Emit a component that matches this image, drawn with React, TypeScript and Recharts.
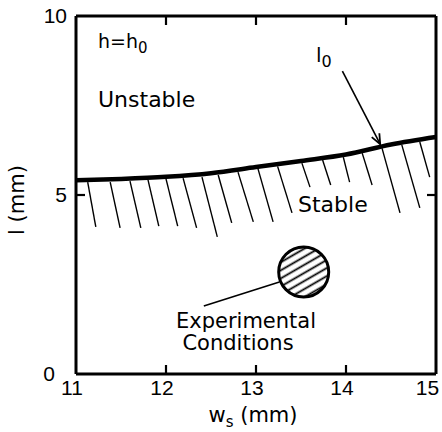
import {
  LineChart,
  Line,
  XAxis,
  YAxis,
  ReferenceLine,
  ReferenceDot,
} from "recharts";

// stability boundary l0 vs ws
const wsValues = [11, 11.5, 12, 12.5, 13, 13.5, 14, 14.5, 15];
const lValues = [5.41, 5.45, 5.51, 5.61, 5.78, 5.95, 6.13, 6.41, 6.62];

// hatch strokes under the boundary (start on the curve, end below it)
const hatchX0 = [11.13, 11.38, 11.6, 11.8, 12.0, 12.19, 12.4, 12.58, 12.8, 13.02, 13.24, 13.51, 13.74, 13.97, 14.18, 14.4, 14.62, 14.82];
const hatchY0 = [5.36, 5.36, 5.39, 5.42, 5.45, 5.47, 5.5, 5.56, 5.64, 5.75, 5.8, 5.89, 5.98, 6.06, 6.17, 6.31, 6.4, 6.48];
const hatchX1 = [11.22, 11.49, 11.72, 11.92, 12.13, 12.34, 12.57, 12.73, 12.97, 13.19, 13.4, 13.6, 13.83, 14.04, 14.29, 14.6, 14.82, 14.93];
const hatchY1 = [4.11, 4.08, 4.08, 4.13, 4.13, 4.08, 3.83, 4.22, 4.25, 4.25, 4.5, 5.22, 5.28, 5.36, 5.28, 4.5, 4.64, 5.5];

const xTicks = [11, 12, 13, 14, 15];
const xInnerTicks = [12, 13, 14];
const yTicks = [0, 5, 10];
const yInnerTicks = [5];

// experimental conditions blob + leader
const expWs = 13.53;
const expL = 2.85;
const leaderWs = [13.26, 12.42];
const leaderL = [2.57, 1.9];

// l0 arrow
const arrowWs = [13.96, 14.38];
const arrowL = [8.46, 6.42];

const X_MIN = 11;
const X_MAX = 15;
const Y_MIN = 0;
const Y_MAX = 10;

const curveData = wsValues.map((ws, i) => ({ ws, l: lValues[i] }));
const hatches = hatchX0.map((x, i) => ({ x0: x, y0: hatchY0[i], x1: hatchX1[i], y1: hatchY1[i] }));

const FONT = "'DejaVu Sans', sans-serif";
const AXIS = { stroke: "#000", strokeWidth: 3 };
const TICK_LEN = 9;

// inward tick mark drawn from a reference dot's position
const tickShape = (dx: number, dy: number) => (p: any) => (
  <line
    x1={p.cx}
    y1={p.cy}
    x2={p.cx + dx * TICK_LEN}
    y2={p.cy + dy * TICK_LEN}
    stroke="#000"
    strokeWidth={2.2}
  />
);

function ArrowShape(props: any) {
  const { x1, y1, x2, y2 } = props;
  const a = Math.atan2(y2 - y1, x2 - x1);
  const len = 11;
  const spread = 0.4;
  const p1 = [x2 - len * Math.cos(a - spread), y2 - len * Math.sin(a - spread)];
  const p2 = [x2 - len * Math.cos(a + spread), y2 - len * Math.sin(a + spread)];
  return (
    <g>
      <line x1={x1} y1={y1} x2={x2} y2={y2} stroke="#000" strokeWidth={1.6} />
      <path d={`M${p1[0]},${p1[1]} L${x2},${y2} L${p2[0]},${p2[1]}`} fill="none" stroke="#000" strokeWidth={1.8} />
    </g>
  );
}

function YTick({ x, y, payload }: any) {
  const dx = payload.value === 0 ? -12 : 0;
  return (
    <text x={x + dx} y={y} dy={7} textAnchor="end" fontFamily="'Liberation Sans', sans-serif" fontSize={21} fill="#000">
      {payload.value}
    </text>
  );
}

export default function App() {
  return (
    <div style={{ position: "absolute", left: 0, top: 0, width: 442, height: 432, background: "#fff" }}>
      <LineChart width={442} height={432} data={curveData} margin={{ top: 16, right: 6, left: 0, bottom: 0 }}>
        <defs>
          <pattern id="hatchFill" patternUnits="userSpaceOnUse" width={8} height={7} patternTransform="rotate(-30)">
            <line x1={0} y1={3.5} x2={8} y2={3.5} stroke="#000" strokeWidth={1.8} />
          </pattern>
        </defs>
        <XAxis
          dataKey="ws"
          type="number"
          domain={[X_MIN, X_MAX]}
          ticks={xTicks}
          height={58}
          tickLine={false}
          tickSize={0}
          tickMargin={6}
          axisLine={AXIS}
          tick={{ fontSize: 21, fill: "#000", fontFamily: "'Liberation Sans', sans-serif", dx: -4 }}
        />
        <XAxis
          xAxisId="top"
          dataKey="ws"
          orientation="top"
          mirror
          type="number"
          domain={[X_MIN, X_MAX]}
          height={1}
          tick={false}
          tickLine={false}
          axisLine={AXIS}
        />
        <YAxis
          type="number"
          domain={[Y_MIN, Y_MAX]}
          ticks={yTicks}
          width={76}
          tickLine={false}
          tickSize={0}
          tickMargin={9}
          axisLine={AXIS}
          tick={<YTick />}
        />
        <YAxis
          yAxisId="right"
          orientation="right"
          mirror
          type="number"
          domain={[Y_MIN, Y_MAX]}
          width={1}
          tick={false}
          tickLine={false}
          axisLine={AXIS}
        />
        {/* invisible series so the frame axes get bound */}
        <Line xAxisId="top" yAxisId="right" dataKey="l" stroke="none" dot={false} isAnimationActive={false} />
        {hatches.map((h, i) => (
          <ReferenceLine
            key={i}
            segment={[
              { x: h.x0, y: h.y0 },
              { x: h.x1, y: h.y1 },
            ]}
            stroke="#000"
            strokeWidth={1.4}
          />
        ))}
        <Line
          type="monotone"
          dataKey="l"
          stroke="#000"
          strokeWidth={4.5}
          dot={false}
          isAnimationActive={false}
        />
        <ReferenceLine
          segment={[
            { x: leaderWs[0], y: leaderL[0] },
            { x: leaderWs[1], y: leaderL[1] },
          ]}
          stroke="#000"
          strokeWidth={1.6}
        />
        <ReferenceDot x={expWs} y={expL} r={25} fill="url(#hatchFill)" stroke="#000" strokeWidth={3} />
        <ReferenceLine
          segment={[
            { x: arrowWs[0], y: arrowL[0] },
            { x: arrowWs[1], y: arrowL[1] },
          ]}
          shape={ArrowShape}
        />
        {/* inward tick marks on all four sides */}
        {xInnerTicks.map((t) => (
          <ReferenceDot key={`b${t}`} x={t} y={Y_MIN} r={1} ifOverflow="visible" shape={tickShape(0, -1)} />
        ))}
        {xInnerTicks.map((t) => (
          <ReferenceDot key={`t${t}`} x={t} y={Y_MAX} r={1} ifOverflow="visible" shape={tickShape(0, 1)} />
        ))}
        {yInnerTicks.map((t) => (
          <ReferenceDot key={`l${t}`} x={X_MIN} y={t} r={1} ifOverflow="visible" shape={tickShape(1, 0)} />
        ))}
        {yInnerTicks.map((t) => (
          <ReferenceDot key={`r${t}`} x={X_MAX} y={t} r={1} ifOverflow="visible" shape={tickShape(-1, 0)} />
        ))}
        <text x={98} y={48} fontFamily={FONT} fontSize={19} fill="#000">
          h=h<tspan dy={5} fontSize={15}>0</tspan>
        </text>
        <text x={98} y={107} fontFamily={FONT} fontSize={22} fill="#000">Unstable</text>
        <text x={298} y={212} fontFamily={FONT} fontSize={22} fill="#000">Stable</text>
        <text x={316} y={62} fontFamily={FONT} fontSize={20} fill="#000">
          l<tspan dy={5} fontSize={16}>0</tspan>
        </text>
        <text x={246} y={328} textAnchor="middle" fontFamily={FONT} fontSize={21} fill="#000">Experimental</text>
        <text x={238} y={350} textAnchor="middle" fontFamily={FONT} fontSize={21} fill="#000">Conditions</text>
        <text x={253} y={422} textAnchor="middle" fontFamily={FONT} fontSize={21} fill="#000">
          w<tspan dy={5} fontSize={15}>s</tspan>
          <tspan dy={-5}> (mm)</tspan>
        </text>
        <text x={24} y={200} textAnchor="middle" transform="rotate(-90 24 200)" fontFamily={FONT} fontSize={21} fill="#000">
          l (mm)
        </text>
      </LineChart>
    </div>
  );
}
